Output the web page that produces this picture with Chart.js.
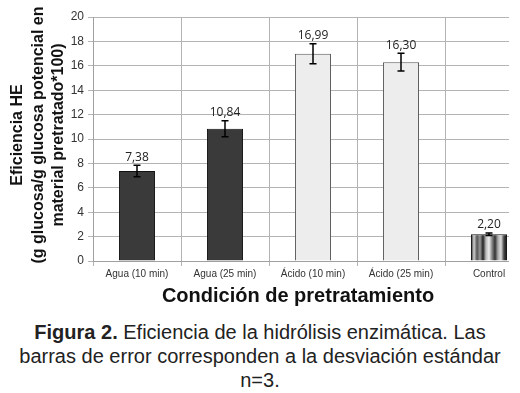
<!DOCTYPE html>
<html><head><meta charset="utf-8">
<script src="https://cdn.jsdelivr.net/npm/chart.js@4"></script>
<style>
html,body{margin:0;padding:0;background:#fff;width:520px;height:393px;overflow:hidden}
#wrap{position:absolute;left:0;top:0;width:509px;height:300px;overflow:hidden}
#c{position:absolute;left:0;top:0}
#yt{position:absolute;left:-102.5px;top:104px;width:280px;height:62px;transform:rotate(-90deg);text-align:center;font:bold 16px/20.5px "Liberation Sans",Arial,sans-serif;color:#111;white-space:nowrap}
#xt{position:absolute;left:0;width:596px;top:284px;text-align:center;font:bold 20px "Liberation Sans",Arial,sans-serif;color:#111;}
#cap{position:absolute;left:-10px;width:540px;top:320px;text-align:center;font:20px/24px "Liberation Sans",Arial,sans-serif;color:#222;white-space:nowrap}
</style></head><body>
<div id="wrap"><canvas id="c" width="545" height="300"></canvas></div>
<div id="yt">Eficiencia HE<br>(g glucosa/g glucosa potencial en<br>material pretratado*100)</div>
<div id="xt">Condición de pretratamiento</div>
<div id="cap"><b>Figura 2.</b> Eficiencia de la hidrólisis enzimática. Las<br>barras de error corresponden a la desviación estándar<br>n=3.</div>
<script>
const categories = ['Agua (10 min)', 'Agua (25 min)', 'Ácido (10 min)', 'Ácido (25 min)', 'Control'];
const values = [7.38, 10.84, 16.99, 16.30, 2.20];
const errors = [0.47, 0.66, 0.82, 0.73, 0.10];
const yTicks = [0, 2, 4, 6, 8, 10, 12, 14, 16, 18, 20];

const fills = ['#3a3a3a', '#3a3a3a', '#ededed', '#ededed', null];
const borders = ['#111', '#111', '#555', '#555', '#111'];

function controlFill(c) {
  const xs = c.chart.scales.x;
  if (!xs) return '#999';
  const cx = xs.getPixelForValue(c.dataIndex);
  const w = 36;
  const g = c.chart.ctx.createLinearGradient(cx - w / 2, 0, cx + w / 2, 0);
  const stops = ['#222','#d0d0d0','#555','#999','#222','#bbb','#eee','#888','#333','#aaa','#ddd','#444','#111'];
  stops.forEach((s, i) => g.addColorStop(i / (stops.length - 1), s));
  return g;
}

const errPlugin = {
  id: 'err',
  afterDatasetsDraw(chart) {
    const ctx = chart.ctx, xs = chart.scales.x, ys = chart.scales.y;
    ctx.save();
    ctx.strokeStyle = '#000';
    ctx.lineWidth = 1.5;
    values.forEach((v, i) => {
      const x = xs.getPixelForValue(i);
      const yt = ys.getPixelForValue(v + errors[i]);
      const yb = ys.getPixelForValue(v - errors[i]);
      ctx.beginPath();
      ctx.moveTo(x, yt); ctx.lineTo(x, yb);
      ctx.moveTo(x - 3.5, yt); ctx.lineTo(x + 3.5, yt);
      ctx.moveTo(x - 3.5, yb); ctx.lineTo(x + 3.5, yb);
      ctx.stroke();
      ctx.fillStyle = '#222';
      ctx.font = '12px "Open Sans", "Liberation Sans", sans-serif';
      ctx.textAlign = 'center';
      ctx.textBaseline = 'bottom';
      ctx.fillText(v.toFixed(2).replace('.', ','), x, yt - 2);
    });
    ctx.restore();
  }
};

new Chart(document.getElementById('c'), {
  type: 'bar',
  data: {
    labels: categories,
    datasets: [{
      data: values,
      backgroundColor: (c) => c.dataIndex === 4 ? controlFill(c) : fills[c.dataIndex],
      borderColor: borders,
      borderWidth: 1,
      categoryPercentage: 1,
      barPercentage: 0.41
    }]
  },
  options: {
    responsive: false,
    animation: false,
    layout: { padding: { top: 17, left: 0, right: 12, bottom: 0 } },
    plugins: { legend: { display: false }, tooltip: { enabled: false } },
    scales: {
      x: {
        grid: { color: '#b4b4b4', tickLength: 5, offset: true },
        border: { color: '#a0a0a0' },
        ticks: { color: '#333', font: { size: 10, family: '"Liberation Sans", Arial, sans-serif' }, padding: 2, maxRotation: 0, autoSkip: false },
        afterFit(s) { s.height = 39; }
      },
      y: {
        min: 0, max: 20,
        afterBuildTicks(s) { s.ticks = yTicks.map(v => ({ value: v })); },
        grid: { color: '#b4b4b4', tickLength: 5 },
        border: { color: '#a0a0a0' },
        ticks: { color: '#333', font: { size: 12, family: '"Liberation Sans", Arial, sans-serif' }, padding: 4 },
        afterFit(s) { s.width = 93; }
      }
    }
  },
  plugins: [errPlugin]
});
</script>
</body></html>
